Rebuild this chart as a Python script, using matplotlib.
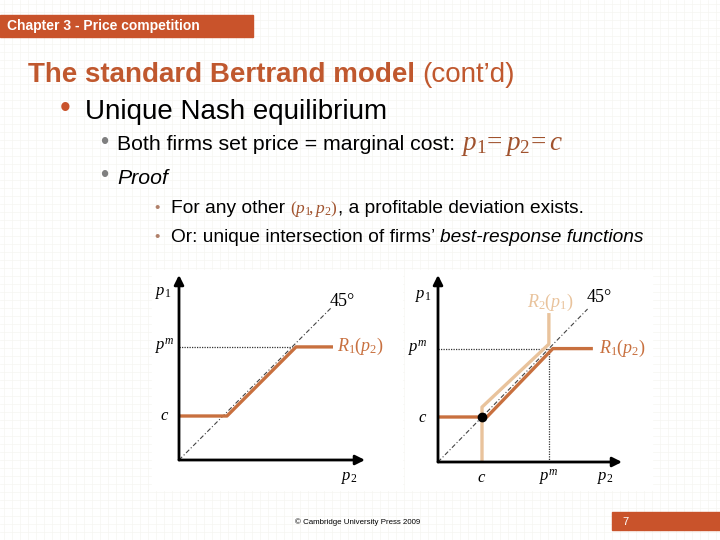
import matplotlib
matplotlib.use('Agg')
import matplotlib.pyplot as plt

plt.rcParams['font.family'] = ['Liberation Sans', 'DejaVu Sans']
plt.rcParams['mathtext.fontset'] = 'custom'
plt.rcParams['mathtext.rm'] = 'Liberation Serif'
plt.rcParams['mathtext.it'] = 'Liberation Serif:italic'

# --- data (chart units, c = 1) ---
c_left = 1.0
pm_left = 2.57
r1_left_x = [0, 1.09, 2.66, 3.5]
r1_left_y = [1.0, 1.0, 2.57, 2.57]
diag_left = [0, 3.45]

c_right = 1.0
pm_right = 2.52
r1_right_x = [0, 1.11, 2.61, 3.52]
r1_right_y = [1.0, 1.0, 2.52, 2.52]
r2_right_x = [1.0, 1.0, 2.52, 2.52]
r2_right_y = [0, 1.22, 2.62, 3.31]
diag_right = [0, 3.4]

ORANGE = '#C9532B'
TITLE = '#C0582E'
R1C = '#C8703F'
R2C = '#E9C39C'

W, H = 720, 540
fig = plt.figure(figsize=(7.2, 5.4), dpi=100)
fig.patch.set_facecolor('white')


def fx(x):
    return x / W


def fy(y):
    return 1 - y / H


def chain(x, y, pieces):
    # put text pieces one after another on a baseline (pixel coords)
    r = fig.canvas.get_renderer()
    for s, kw in pieces:
        t = fig.text(fx(x), fy(y), s, va='baseline', ha='left', **kw)
        x = t.get_window_extent(renderer=r).x1
    return x


# faint slide background grid
bg = fig.add_axes([0, 0, 1, 1], zorder=-5)
bg.set_xlim(0, W)
bg.set_ylim(H, 0)
bg.axis('off')
for g in range(4, W, 8):
    bg.axvline(g, color='#F6F5F2', lw=0.5, zorder=1)
for g in range(4, H, 8):
    bg.axhline(g, color='#F6F5F2', lw=0.5, zorder=1)
bg.add_patch(plt.Rectangle((152, 270), 250, 220, color='white', zorder=3))
bg.add_patch(plt.Rectangle((405, 270), 247, 220, color='white', zorder=3))

# header bar
bg.add_patch(plt.Rectangle((0, 15), 253, 22, color=ORANGE, zorder=3))
fig.text(fx(7), fy(26), 'Chapter 3 - Price competition', color='white', fontsize=10,
         fontweight='bold', va='center')

# title
chain(28, 82, [('The standard Bertrand model ', dict(fontsize=20, fontweight='bold', color=TITLE)),
               ('(cont\u2019d)', dict(fontsize=20, color=TITLE))])

fig.text(fx(60), fy(109), '\u2022', color=ORANGE, fontsize=22, va='center')
fig.text(fx(85), fy(112), 'Unique Nash equilibrium', fontsize=20, va='center')

fig.text(fx(100), fy(143), '\u2022', color='#7f7f7f', fontsize=17, va='center')
chain(117, 150, [('Both firms set price = marginal cost: ', dict(fontsize=15.3)),
                 (r'$p_1\!=p_2\!=c$', dict(fontsize=19.5, color='#A0522D'))])
fig.text(fx(100), fy(176), '\u2022', color='#7f7f7f', fontsize=17, va='center')
fig.text(fx(117), fy(178), 'Proof', fontsize=15.3, style='italic', va='center')

fig.text(fx(154), fy(208), '\u2022', color='#B0806A', fontsize=11, va='center')
chain(171, 213, [('For any other ', dict(fontsize=13.8)),
                 (r'$(p_1\!,p_2)$', dict(fontsize=12.5, color='#A0522D')),
                 (', a profitable deviation exists.', dict(fontsize=13.8))])
fig.text(fx(154), fy(237), '\u2022', color='#B0806A', fontsize=11, va='center')
chain(171, 242, [('Or: unique intersection of firms\u2019 ', dict(fontsize=13.8)),
                 ('best-response functions', dict(fontsize=13.8, style='italic'))])


def make_axes(ox, oy, wpx, hpx, xmax, ymax):
    ax = fig.add_axes([fx(ox), fy(oy), wpx / W, hpx / H])
    ax.set_xlim(0, xmax)
    ax.set_ylim(0, ymax)
    ax.axis('off')
    ax.annotate('', xy=(xmax, 0), xytext=(0, 0), annotation_clip=False,
                arrowprops=dict(arrowstyle='-|>', color='black', lw=2, mutation_scale=14,
                                shrinkA=0, shrinkB=0))
    ax.annotate('', xy=(0, ymax), xytext=(0, 0), annotation_clip=False,
                arrowprops=dict(arrowstyle='-|>', color='black', lw=2, mutation_scale=14,
                                shrinkA=0, shrinkB=0))
    return ax


# left chart
ax1 = make_axes(179, 460, 186, 185, 186 / 44, 185 / 44)
ax1.plot(diag_left, diag_left, color='#444444', lw=0.8, ls=(0, (4, 2, 1, 2)))
ax1.plot([0, pm_left], [pm_left, pm_left], color='#333333', lw=0.9, ls=(0, (1, 1)))
ax1.plot(r1_left_x, r1_left_y, color=R1C, lw=2.4, solid_capstyle='butt')
ax1.text(-0.35, 3.8, '$p_1$', fontsize=12, ha='center', va='center', clip_on=False)
ax1.text(-0.32, pm_left, '$p^m$', fontsize=12, ha='center', va='center', clip_on=False)
ax1.text(-0.32, c_left, '$c$', fontsize=12, ha='center', va='center', clip_on=False)
ax1.text(3.88, -0.42, '$p_2$', fontsize=12, ha='center', va='center', clip_on=False)
ax1.text(3.7, 3.6, '45\u00b0', fontsize=13, family='Liberation Serif', ha='center',
         va='center', clip_on=False)
ax1.text(3.6, pm_left, '$R_1(p_2)$', fontsize=13, color=R1C, ha='left', va='center',
         clip_on=False)

# right chart
ax2 = make_axes(438, 462, 184, 187, 184 / 44, 187 / 45)
ax2.plot(diag_right, diag_right, color='#444444', lw=0.8, ls=(0, (4, 2, 1, 2)))
ax2.plot([0, pm_right], [pm_right, pm_right], color='#333333', lw=0.9, ls=(0, (1, 1)))
ax2.plot([pm_right, pm_right], [0, pm_right], color='#333333', lw=0.9, ls=(0, (1, 1)))
ax2.plot(r2_right_x, r2_right_y, color=R2C, lw=2.4, solid_capstyle='butt')
ax2.plot(r1_right_x, r1_right_y, color=R1C, lw=2.4, solid_capstyle='butt')
ax2.plot([c_right], [c_right], 'o', color='black', ms=6)
ax2.text(-0.33, 3.7, '$p_1$', fontsize=12, ha='center', va='center', clip_on=False)
ax2.text(-0.45, pm_right, '$p^m$', fontsize=12, ha='center', va='center', clip_on=False)
ax2.text(-0.35, c_right, '$c$', fontsize=12, ha='center', va='center', clip_on=False)
ax2.text(c_right, -0.35, '$c$', fontsize=12, ha='center', va='center', clip_on=False)
ax2.text(pm_right, -0.35, '$p^m$', fontsize=12, ha='center', va='center', clip_on=False)
ax2.text(3.80, -0.35, '$p_2$', fontsize=12, ha='center', va='center', clip_on=False)
ax2.text(3.67, 3.65, '45\u00b0', fontsize=13, family='Liberation Serif', ha='center',
         va='center', clip_on=False)
ax2.text(2.55, 3.55, '$R_2(p_1)$', fontsize=13, color=R2C, ha='center', va='center',
         clip_on=False)
ax2.text(3.65, pm_right, '$R_1(p_2)$', fontsize=13, color=R1C, ha='left', va='center',
         clip_on=False)

# footer
fig.text(fx(295), fy(522), '\u00a9 Cambridge University Press 2009', fontsize=5.7, va='center')
bg.add_patch(plt.Rectangle((612, 512), 108, 18, color=ORANGE, zorder=3))
fig.text(fx(622), fy(522), '7', color='white', fontsize=8, va='center')

fig.savefig('out.png', dpi=100, facecolor='white')
